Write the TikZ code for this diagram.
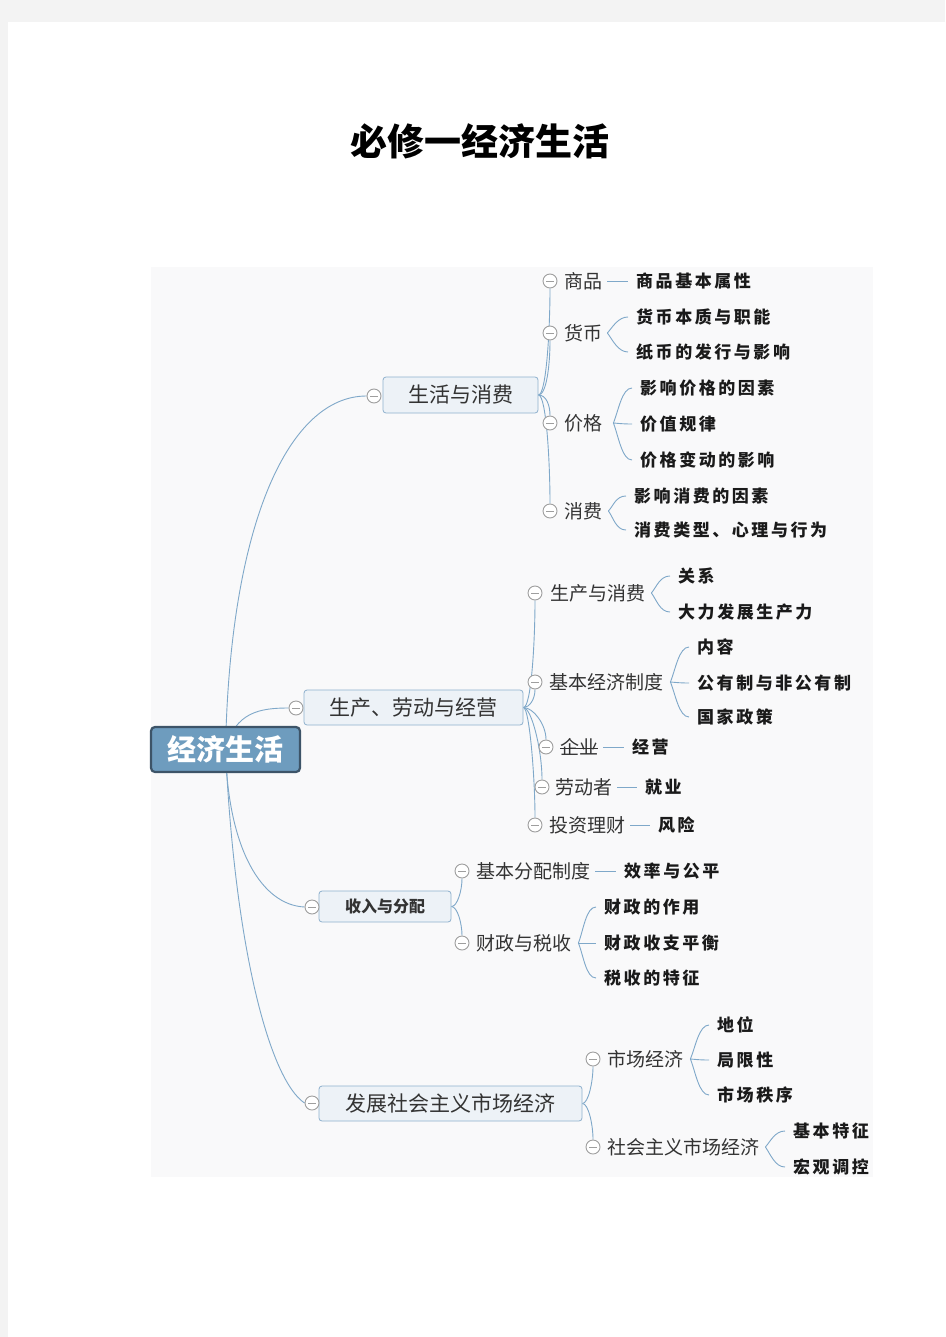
\documentclass[tikz,border=0pt]{standalone}
\usepackage{fontspec}
\setmainfont{Noto Sans CJK SC}
\newfontfamily\leaffont[LetterSpace=15]{Noto Sans CJK SC}
\usetikzlibrary{calc}
\definecolor{pagegray}{HTML}{F3F3F3}
\definecolor{mapbg}{HTML}{F9F9FA}
\definecolor{conn}{HTML}{7FA8C9}
\definecolor{rootfill}{HTML}{6E9CBE}
\definecolor{rootdraw}{HTML}{3D5468}
\definecolor{boxfill}{HTML}{EDF2F7}
\definecolor{boxdraw}{HTML}{8FB1CE}
\definecolor{txt}{HTML}{333333}
\definecolor{leaftxt}{HTML}{1A1A1A}
\definecolor{cgray}{HTML}{9E9E9E}
\pgfdeclarelayer{back}
\pgfdeclarelayer{lines}
\pgfsetlayers{back,lines,main}
\tikzset{
  rootbox/.style={draw=rootdraw, line width=2.2pt, fill=rootfill, rounded corners=4pt, text=white,
    font=\fontsize{29}{29}\selectfont\bfseries, minimum width=149pt, minimum height=45pt, inner sep=0pt},
  topic/.style={draw=boxdraw, line width=0.8pt, fill=boxfill, rounded corners=3pt, text=txt,
    font=\fontsize{21}{21}\selectfont, minimum height=36pt, inner sep=0pt},
  sub/.style={anchor=west, inner sep=0pt, text=txt, font=\fontsize{19}{19}\selectfont},
  leaf/.style={anchor=west, inner sep=0pt, text=leaftxt, font=\leaffont\bfseries\fontsize{17}{17}\selectfont},
  fold/.style={circle, draw=cgray, fill=white, line width=0.9pt, minimum size=14pt, inner sep=0pt,
    path picture={\draw[cgray, line width=0.9pt] ([xshift=-4pt]path picture bounding box.center) -- ([xshift=4pt]path picture bounding box.center);}},
  link/.style={draw=conn, line width=0.9pt},
}
\newcommand\brkt[2]{%
  \draw[link] (#1) .. controls ($(#1)!0.35!(#1 |- #2.west)+(5,0)$) and ($(#2.west)+(-18,0)$) .. ($(#2.west)+(-8,0)$);}
\newcommand\single[2]{%
  \draw[link] ([xshift=5pt]#1.east) -- ([xshift=-8pt]#2.west);}
\begin{document}
\begin{tikzpicture}[x=1pt,y=-1pt]
\useasboundingbox (0,0) rectangle (945,1337);
\begin{pgfonlayer}{back}
\fill[pagegray] (0,0) rectangle (945,1337);
\fill[white] (8,22) rectangle (945,1337);
\fill[mapbg] (151,267) rectangle (873,1177);
\end{pgfonlayer}

\node[font=\fontsize{37}{37}\selectfont\bfseries, inner sep=0pt] (title) at (480,141) {必修一经济生活};

% root
\node[rootbox] (root) at (225.5,749.5) {经济生活};

% level 1
\node[topic, minimum width=155pt, minimum height=36pt] (t1) at (460.5,395) {生活与消费};
\node[topic, minimum width=219pt, minimum height=35pt] (t2) at (413.5,707.5) {生产、劳动与经营};
\node[topic, minimum width=132pt, minimum height=31pt, font=\fontsize{16}{16}\selectfont\bfseries] (t3) at (385,906.5) {收入与分配};
\node[topic, minimum width=263pt, minimum height=35pt] (t4) at (450.5,1103.5) {发展社会主义市场经济};

\node[fold] (f1) at (374,396) {};
\node[fold] (f2) at (296,708) {};
\node[fold] (f3) at (312,907) {};
\node[fold] (f4) at (312,1103) {};

% level 2 under t1
\node[fold] (fa1) at (550,281) {};  \node[sub] (a1) at (564,281) {商品};
\node[fold] (fa2) at (550,333) {};  \node[sub] (a2) at (564,333) {货币};
\node[fold] (fa3) at (550,423) {};  \node[sub] (a3) at (564,423) {价格};
\node[fold] (fa4) at (550,511) {};  \node[sub] (a4) at (564,511) {消费};

\node[leaf] (a1x) at (636,281) {商品基本属性};
\node[leaf] (a2x) at (636,317) {货币本质与职能};
\node[leaf] (a2y) at (636,352) {纸币的发行与影响};
\node[leaf] (a3x) at (640,388) {影响价格的因素};
\node[leaf] (a3y) at (640,424) {价值规律};
\node[leaf] (a3z) at (640,460) {价格变动的影响};
\node[leaf] (a4x) at (634,496) {影响消费的因素};
\node[leaf] (a4y) at (634,530) {消费类型、心理与行为};

% level 2 under t2
\node[fold] (fb1) at (535,593) {};  \node[sub] (b1) at (550,593) {生产与消费};
\node[fold] (fb2) at (535,682) {};  \node[sub] (b2) at (549,682) {基本经济制度};
\node[fold] (fb3) at (546,747) {};  \node[sub] (b3) at (560,747) {企业};
\node[fold] (fb4) at (542,787) {};  \node[sub] (b4) at (555,787) {劳动者};
\node[fold] (fb5) at (535,825) {};  \node[sub] (b5) at (549,825) {投资理财};

\node[leaf] (b1x) at (678,576) {关系};
\node[leaf] (b1y) at (678,612) {大力发展生产力};
\node[leaf] (b2x) at (697,647) {内容};
\node[leaf] (b2y) at (697,683) {公有制与非公有制};
\node[leaf] (b2z) at (697,717) {国家政策};
\node[leaf] (b3x) at (632,747) {经营};
\node[leaf] (b4x) at (645,787) {就业};
\node[leaf] (b5x) at (658,825) {风险};

% level 2 under t3
\node[fold] (fc1) at (462,871) {};  \node[sub] (c1) at (476,871) {基本分配制度};
\node[fold] (fc2) at (462,943) {};  \node[sub] (c2) at (476,943) {财政与税收};
\node[leaf] (c1x) at (624,871) {效率与公平};
\node[leaf] (c2x) at (604,907) {财政的作用};
\node[leaf] (c2y) at (604,943) {财政收支平衡};
\node[leaf] (c2z) at (604,978) {税收的特征};

% level 2 under t4
\node[fold] (fd1) at (593,1059) {};  \node[sub] (d1) at (607,1059) {市场经济};
\node[fold] (fd2) at (593,1147) {};  \node[sub] (d2) at (607,1147) {社会主义市场经济};
\node[leaf] (d1x) at (717,1025) {地位};
\node[leaf] (d1y) at (717,1060) {局限性};
\node[leaf] (d1z) at (717,1095) {市场秩序};
\node[leaf] (d2x) at (793,1131) {基本特征};
\node[leaf] (d2y) at (793,1167) {宏观调控};

\draw[txt, line width=0.7pt] ([yshift=7pt]b3.south west) -- ([yshift=7pt]b3.south east);

\begin{pgfonlayer}{lines}
% root to topics
\draw[link] (root.center) .. controls (230,520) and (290,396) .. (f1.west);
\draw[link] (root.center) .. controls (235,712) and (260,708) .. (f2.west);
\draw[link] (root.center) .. controls (228,850) and (262,905) .. (f3.west);
\draw[link] (root.center) .. controls (235,950) and (270,1080) .. (f4.west);

% topic 1 to subs
\draw[link] (t1.east) .. controls +(8,0) and +(0,40) .. (fa1.south);
\draw[link] (t1.east) .. controls +(8,0) and +(0,25) .. (fa2.south);
\draw[link] (t1.east) .. controls +(8,0) and +(0,-10) .. (fa3.north);
\draw[link] (t1.east) .. controls +(8,0) and +(0,-40) .. (fa4.north);
% topic 2
\draw[link] (t2.east) .. controls +(8,0) and +(0,40) .. (fb1.south);
\draw[link] (t2.east) .. controls +(6,0) and +(0,10) .. (fb2.south);
\draw[link] (t2.east) .. controls +(10,0) and +(0,-15) .. (fb3.north);
\draw[link] (t2.east) .. controls +(8,0) and +(0,-30) .. (fb4.north);
\draw[link] (t2.east) .. controls +(6,0) and +(0,-40) .. (fb5.north);
% topic 3
\draw[link] (t3.east) .. controls +(6,0) and +(0,12) .. (fc1.south);
\draw[link] (t3.east) .. controls +(6,0) and +(0,-12) .. (fc2.north);
% topic 4
\draw[link] (t4.east) .. controls +(6,0) and +(0,15) .. (fd1.south);
\draw[link] (t4.east) .. controls +(6,0) and +(0,-15) .. (fd2.north);

% sub to leaves
\single{a1}{a1x}
\coordinate (s2) at ([xshift=5pt]a2.east);
\brkt{s2}{a2x} \brkt{s2}{a2y}
\coordinate (s3) at ([xshift=11pt]a3.east);
\brkt{s3}{a3x} \brkt{s3}{a3y} \brkt{s3}{a3z}
\coordinate (s4) at ([xshift=6pt]a4.east);
\brkt{s4}{a4x} \brkt{s4}{a4y}

\coordinate (sb1) at ([xshift=6pt]b1.east);
\brkt{sb1}{b1x} \brkt{sb1}{b1y}
\coordinate (sb2) at ([xshift=7pt]b2.east);
\brkt{sb2}{b2x} \brkt{sb2}{b2y} \brkt{sb2}{b2z}
\single{b3}{b3x}
\single{b4}{b4x}
\single{b5}{b5x}

\single{c1}{c1x}
\coordinate (sc2) at ([xshift=7pt]c2.east);
\brkt{sc2}{c2x} \brkt{sc2}{c2y} \brkt{sc2}{c2z}

\coordinate (sd1) at ([xshift=7pt]d1.east);
\brkt{sd1}{d1x} \brkt{sd1}{d1y} \brkt{sd1}{d1z}
\coordinate (sd2) at ([xshift=6pt]d2.east);
\brkt{sd2}{d2x} \brkt{sd2}{d2y}
\end{pgfonlayer}
\end{tikzpicture}
\end{document}
